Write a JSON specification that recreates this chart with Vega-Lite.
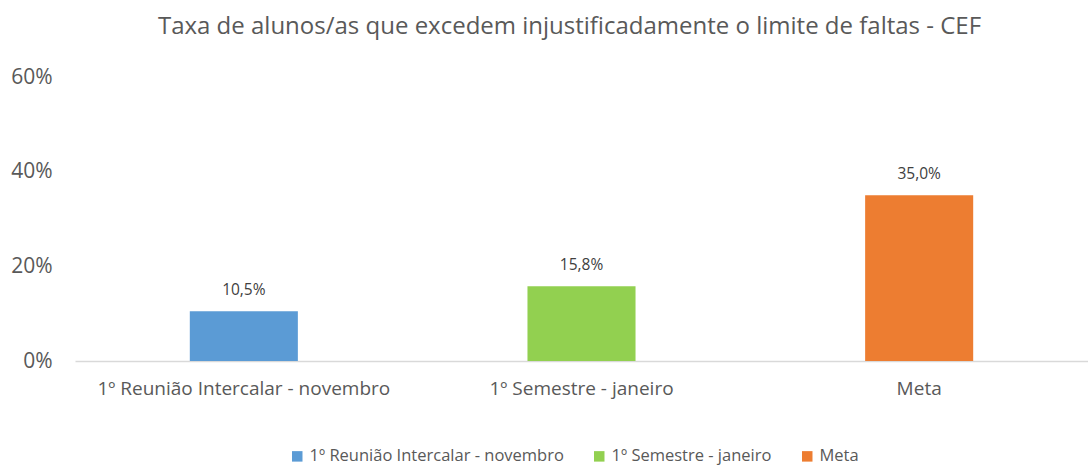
{
  "$schema": "https://vega.github.io/schema/vega-lite/v6.json",
  "width": 1013,
  "height": 284,
  "autosize": {"type": "none"},
  "padding": {"left": 75, "top": 77, "right": 0, "bottom": 109},
  "background": "white",
  "config": {
    "view": {"stroke": null},
    "font": "Open Sans",
    "locale": {"number": {"decimal": ",", "thousands": ".", "grouping": [3], "currency": ["", " €"]}}
  },
  "title": {
    "text": "Taxa de alunos/as que excedem injustificadamente o limite de faltas - CEF",
    "fontSize": 24,
    "fontWeight": "normal",
    "color": "#595959",
    "font": "Open Sans",
    "offset": 27,
    "dx": -12
  },
  "data": {
    "values": [
      {"categoria": "1º Reunião Intercalar - novembro", "taxa": 0.105},
      {"categoria": "1º Semestre - janeiro", "taxa": 0.158},
      {"categoria": "Meta", "taxa": 0.35}
    ]
  },
  "encoding": {
    "x": {
      "field": "categoria",
      "type": "nominal",
      "sort": null,
      "scale": {"paddingInner": 0.68, "paddingOuter": 0.34},
      "axis": {
        "title": null,
        "labelAngle": 0,
        "labelFontSize": 19,
        "labelLimit": 0,
        "labelColor": "#595959",
        "labelPadding": 18,
        "ticks": false,
        "domainColor": "#D9D9D9",
        "domainWidth": 1.5
      }
    },
    "y": {
      "field": "taxa",
      "type": "quantitative",
      "scale": {"domain": [0, 0.6]},
      "axis": {
        "title": null,
        "values": [0, 0.2, 0.4, 0.6],
        "format": ".0%",
        "grid": false,
        "domain": false,
        "ticks": false,
        "labelFontSize": 21,
        "labelColor": "#595959",
        "labelPadding": 23
      }
    }
  },
  "layer": [
    {
      "mark": {"type": "bar"},
      "encoding": {
        "color": {
          "field": "categoria",
          "type": "nominal",
          "sort": null,
          "scale": {"range": ["#5B9BD5", "#92D050", "#ED7D31"]},
          "legend": {
            "title": null,
            "orient": "none",
            "direction": "horizontal",
            "legendX": 214,
            "legendY": 371,
            "symbolType": "square",
            "symbolSize": 110,
            "symbolStrokeWidth": 0,
            "symbolOpacity": 1,
            "labelFontSize": 16.5,
            "labelLimit": 0,
            "labelColor": "#595959",
            "columnPadding": 27,
            "labelOffset": 4
          }
        }
      }
    },
    {
      "mark": {"type": "text", "baseline": "bottom", "dy": -13, "fontSize": 15.5, "color": "#404040"},
      "encoding": {
        "text": {"field": "taxa", "type": "quantitative", "format": ".1%"}
      }
    }
  ]
}
